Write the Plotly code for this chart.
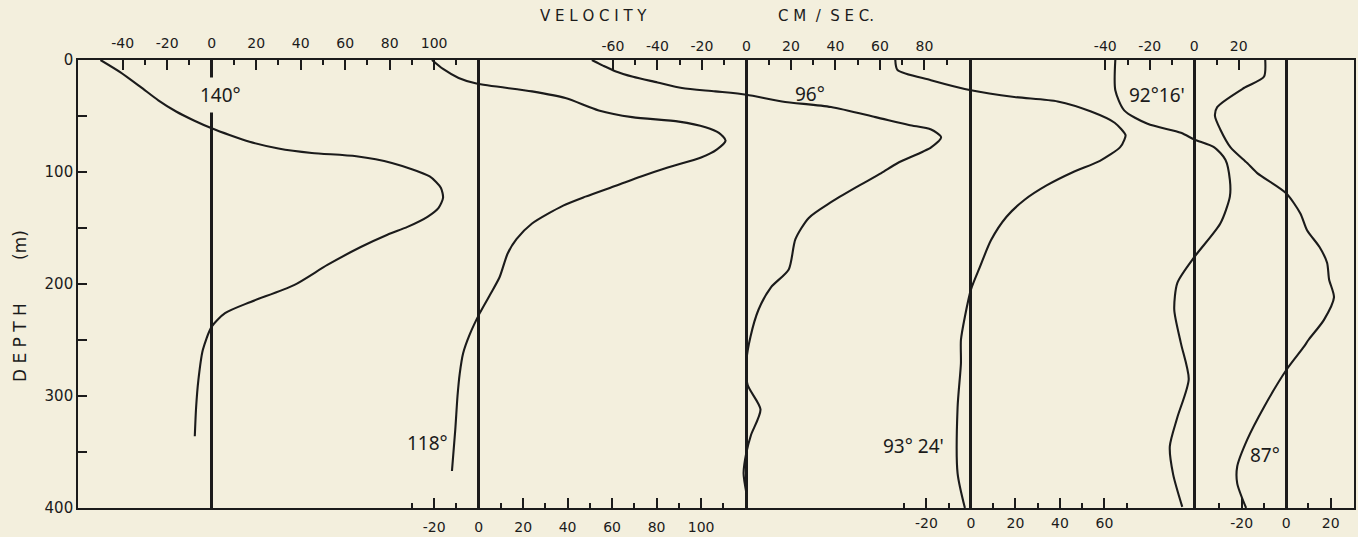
import plotly.graph_objects as go

# ---------------- data ----------------
# depth in metres, velocity in cm/sec, one list pair per section
names = ["140°", "118°", "96°", "93° 24'", "92°16'", "87°"]

d140 = [0, 11, 24, 36, 46, 54, 61, 67, 73, 79, 83, 86, 92, 104, 114, 123, 132, 140, 149, 156, 167, 183, 201, 216, 226, 238, 259, 286, 310, 336]
v140 = [-50, -41, -32, -24, -16, -8, 0, 8, 17, 30, 45, 65, 81, 98, 103, 104, 102, 97, 88, 79, 67, 52, 37, 17.5, 6, 0, -4, -6, -7, -7.6]

d118 = [0, 8, 16, 21, 28, 34, 45, 51, 55, 60, 65, 72, 80, 87, 96, 104, 112, 122, 130, 146, 160, 173, 194, 210, 226, 245, 262, 280, 300, 330, 367]
v118 = [-21, -16, -9, -1, 24, 39, 54, 69, 90, 102, 108, 111, 107, 100, 85, 73, 62, 48, 38, 24, 17, 13, 9.4, 5, 0.5, -4, -7, -8.5, -9.5, -10.5, -12]

d96 = [0, 5, 10, 15, 20, 25, 28, 31, 37, 42, 51, 58, 62, 69, 78, 92, 101, 114, 127, 141, 160, 187, 203, 223, 247, 268, 290, 312, 335, 350, 369, 387]
v96 = [-69.5, -64.5, -59, -51, -40, -29, -14, 0, 16, 38, 58, 73, 83, 87.5, 83, 68, 60.6, 49, 38, 28, 22, 19, 11, 5.4, 1.8, 0, 0.5, 6.3, 2, 0, -1.3, 0]

d9324 = [0, 9, 18, 27, 33, 37, 46, 56, 67, 71, 78, 90, 100, 112, 125, 140, 161, 185, 205, 229, 250, 271, 310, 369, 400]
v9324 = [-34, -33, -18, 0, 19.5, 39, 54, 64.6, 69.5, 69, 67, 58, 46, 34, 24, 16, 9, 4, 0, -2.7, -4.5, -4.5, -6, -6, -2.7]

d9216 = [0, 27, 45, 57, 65, 71, 78, 89, 107, 122, 146, 176, 199, 223, 253, 285, 319, 345, 370, 399]
v9216 = [-35.5, -35.5, -31.5, -21, -6, 0, 9, 14, 16, 16, 11.7, 0, -7.6, -9, -6, -2.5, -7.6, -11, -9.5, -5.4]

d87 = [0, 15, 25, 42, 50, 62, 78, 92, 101, 119, 137, 152, 167, 181, 196, 212, 232, 250, 256, 277, 310, 339, 363, 378, 400]
v87 = [-9.4, -10, -19, -31, -32, -29.6, -25, -17.5, -13, 0, 6.4, 9.4, 15, 18.4, 19.3, 21.5, 17, 10, 8, 0, -10, -17.5, -22, -22, -18]

depths = [d140, d118, d96, d9324, d9216, d87]
vels = [v140, v118, v96, v9324, v9216, v87]

# zero of each section, in cm/sec from the 140° zero (layout)
offsets = [0, 120, 240.4, 341.3, 441.7, 483.0]
# scale ticks for each section's own velocity axis
tick_lo = [-40, -30, -60, -30, -40, -30]
tick_hi = [110, 110, 90, 70, 20, 20]
sides = ["top", "bottom", "top", "bottom", "top", "bottom"]

depth_ticks = [0, 100, 200, 300, 400]
depth_minor = [50, 150, 250, 350]

# ---------------- figure ----------------
BG = "#f3efdd"
INK = "#1b1b1b"
FONT = "Noto Sans"
TFONT = "DejaVu Sans"
X_LEFT, X_RIGHT = -60.1, 513.5   # full velocity window relative to 140° zero

fig = go.Figure()
for i in range(6):
    xa = "x" if i == 0 else f"x{i+1}"
    fig.add_trace(go.Scatter(
        x=vels[i], y=depths[i], xaxis=xa, yaxis="y",
        mode="lines", line=dict(color=INK, width=2.1, shape="spline", smoothing=0.7),
        hoverinfo="skip", showlegend=False))

    major = [t for t in range(tick_lo[i], tick_hi[i] + 1, 10) if t % 20 == 0]
    minor = [t for t in range(tick_lo[i], tick_hi[i] + 1, 10) if t % 20 != 0]
    ax = dict(
        range=[X_LEFT - offsets[i], X_RIGHT - offsets[i]],
        side=sides[i], anchor="y",
        showgrid=False,
        zeroline=True, zerolinecolor=INK, zerolinewidth=2.6,
        tickmode="array", tickvals=major, ticktext=[str(t) for t in major],
        ticks="inside", ticklen=10, tickwidth=1.5, tickcolor=INK,
        ticklabelstandoff=5,
        minor=dict(tickmode="array", tickvals=minor, ticks="inside", ticklen=5,
                   tickwidth=1.5, tickcolor=INK, showgrid=False),
        tickfont=dict(family=TFONT, size=14, color=INK),
        showline=(i in (0, 1)), linecolor=INK, linewidth=1.6,
        fixedrange=True,
    )
    if i > 0:
        ax["overlaying"] = "x"
    fig.layout["xaxis" if i == 0 else f"xaxis{i+1}"] = ax

fig.update_layout(
    width=1358, height=537,
    margin=dict(l=78, r=2, t=60, b=29),
    paper_bgcolor=BG, plot_bgcolor=BG,
    yaxis=dict(range=[400, 0], tickmode="array", tickvals=depth_ticks,
               ticktext=[str(t) for t in depth_ticks],
               ticks="inside", ticklen=9, tickwidth=1.5, tickcolor=INK,
               minor=dict(tickmode="array", tickvals=depth_minor, ticks="inside",
                          ticklen=9, tickwidth=1.5, tickcolor=INK),
               showgrid=False, zeroline=False,
               showline=True, mirror=True, linecolor=INK, linewidth=1.6,
               tickfont=dict(family=TFONT, size=15, color=INK), fixedrange=True),
)

# section labels (placed on each section's own axis)
label_pos = [(4, 31, "x"), (-22.9, 342, "x2"), (28.7, 30, "x3"),
             (-25.6, 345, "x4"), (-16.6, 31, "x5"), (-9.4, 353, "x6")]
for (lx, ly, xr), txt in zip(label_pos, names):
    fig.add_annotation(x=lx, y=ly, xref=xr, yref="y", text=txt, showarrow=False,
                       xanchor="center", yanchor="middle",
                       font=dict(family=FONT, size=19, color=INK),
                       bgcolor=BG if xr == "x" else None, borderpad=4)

fig.add_annotation(x=(595 - 78) / 1279, y=1.098, xref="paper", yref="paper",
                   text="V E L O C I T Y", showarrow=False,
                   xanchor="center", yanchor="middle",
                   font=dict(family=TFONT, size=15, color=INK))
fig.add_annotation(x=(828 - 78) / 1279, y=1.098, xref="paper", yref="paper",
                   text="C M  /  S E C.", showarrow=False,
                   xanchor="center", yanchor="middle",
                   font=dict(family=TFONT, size=15, color=INK))
fig.add_annotation(x=(20 - 78) / 1279, y=0.451, xref="paper", yref="paper",
                   text="D E P T H        (m)", textangle=-90, showarrow=False,
                   xanchor="center", yanchor="middle",
                   font=dict(family=TFONT, size=17, color=INK))

fig.write_html("out.html", config={"displayModeBar": False},
               post_script="document.body.style.margin='0px';document.body.style.overflow='hidden';")
